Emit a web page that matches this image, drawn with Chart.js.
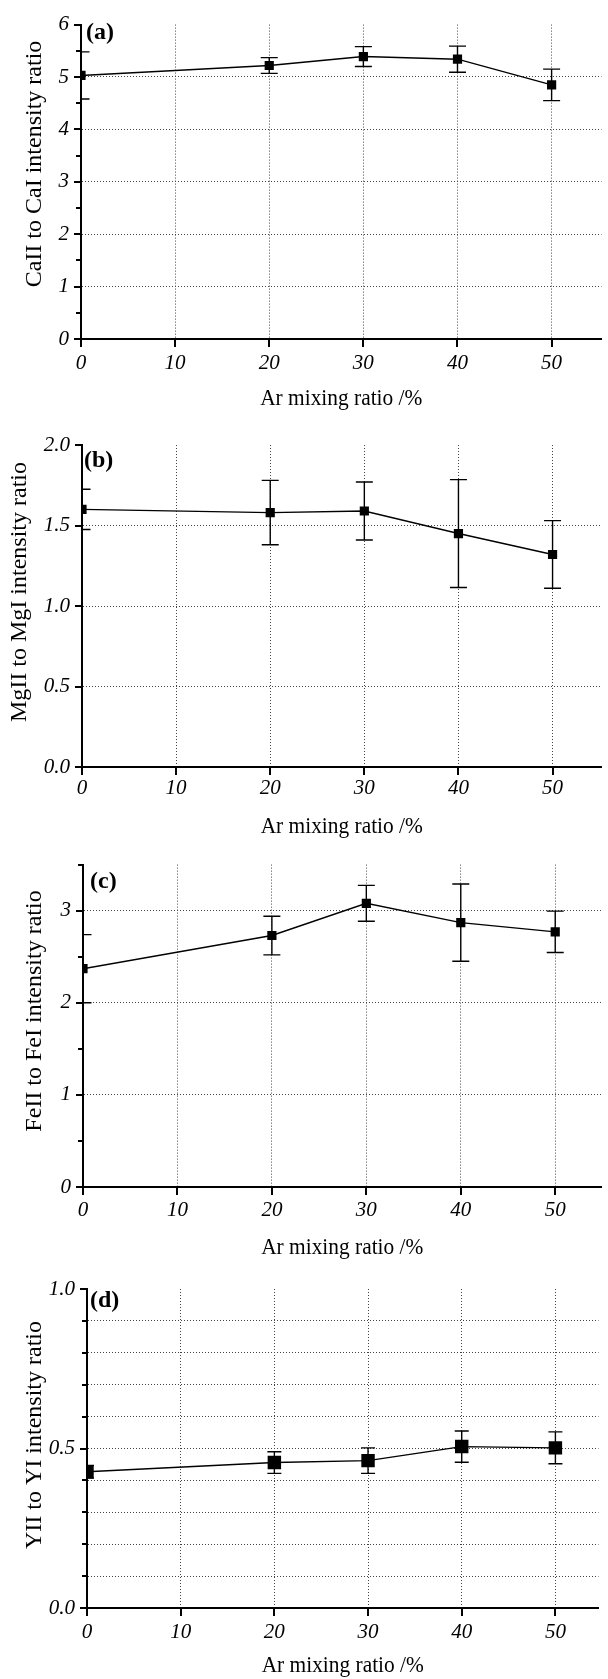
<!DOCTYPE html>
<html>
<head>
<meta charset="utf-8">
<script src="https://cdn.jsdelivr.net/npm/chart.js@4.4.1/dist/chart.umd.min.js"></script>
<style>
  html, body { margin:0; padding:0; background:#fff; }
  #page { position:relative; width:608px; height:1679px; overflow:hidden; }
  .box { position:absolute; left:0; width:608px; }
</style>
</head>
<body>
<div id="page">
  <div class="box" style="top:0;height:440px"><canvas id="chartA"></canvas></div>
  <div class="box" style="top:420px;height:440px"><canvas id="chartB"></canvas></div>
  <div class="box" style="top:840px;height:440px"><canvas id="chartC"></canvas></div>
  <div class="box" style="top:1260px;height:419px"><canvas id="chartD"></canvas></div>
</div>
<script>
// Ar mixing ratio (%) - same for all four panels
const arMix = [0, 20, 30, 40, 50];
const xTicks = [0, 10, 20, 30, 40, 50];

// (a) CaII / CaI
const caRatio = [5.03, 5.22, 5.39, 5.34, 4.85];
const caErr   = [0.45, 0.15, 0.19, 0.25, 0.30];
const caTicks = [0, 1, 2, 3, 4, 5, 6];
const caLabels = ['0', '1', '2', '3', '4', '5', '6'];
const caMinor = [0.5, 1.5, 2.5, 3.5, 4.5, 5.5];

// (b) MgII / MgI
const mgRatio = [1.60, 1.58, 1.59, 1.45, 1.32];
const mgErr   = [0.125, 0.20, 0.18, 0.335, 0.21];
const mgTicks = [0, 0.5, 1, 1.5, 2];
const mgLabels = ['0.0', '0.5', '1.0', '1.5', '2.0'];
const mgMinor = [];

// (c) FeII / FeI
const feRatio = [2.37, 2.73, 3.08, 2.87, 2.77];
const feErr   = [0.37, 0.21, 0.195, 0.42, 0.225];
const feTicks = [0, 1, 2, 3];
const feLabels = ['0', '1', '2', '3'];
const feMinor = [0.5, 1.5, 2.5, 3.5];

// (d) YII / YI
const yRatio = [0.427, 0.456, 0.462, 0.506, 0.502];
const yErr   = [0.02, 0.034, 0.04, 0.049, 0.05];
const yTicks = [0, 0.1, 0.2, 0.3, 0.4, 0.5, 0.6, 0.7, 0.8, 0.9, 1];
const yLabels = ['0.0', '', '', '', '', '0.5', '', '', '', '', '1.0'];
const yMinor = [];

const SERIF = '"Liberation Serif", "Times New Roman", serif';

const panels = [
  {id:'chartA', tag:'(a)', title:'CaII to CaI intensity ratio', ys:caRatio, err:caErr,
   ticks:caTicks, labels:caLabels, minor:caMinor, yMax:6, xMax:55.3,
   left:81, top:15, bottom:339, h:440, mark:6.5, cap:8.5,
   titleX:35, titleY:164, tagX:86, tagY:33, xTitleY:399, xPad:12},
  {id:'chartB', tag:'(b)', title:'MgII to MgI intensity ratio', ys:mgRatio, err:mgErr,
   ticks:mgTicks, labels:mgLabels, minor:mgMinor, yMax:2, xMax:55.2,
   left:82, top:25, bottom:347, h:440, mark:6.5, cap:8.5,
   titleX:20, titleY:172, tagX:84, tagY:41, xTitleY:407, xPad:9},
  {id:'chartC', tag:'(c)', title:'FeII to FeI intensity ratio', ys:feRatio, err:feErr,
   ticks:feTicks, labels:feLabels, minor:feMinor, yMax:3.5, xMax:54.9,
   left:83, top:24, bottom:347, h:440, mark:6.5, cap:8.5,
   titleX:35, titleY:171, tagX:90, tagY:42, xTitleY:408, xPad:11},
  {id:'chartD', tag:'(d)', title:'YII to YI intensity ratio', ys:yRatio, err:yErr,
   ticks:yTicks, labels:yLabels, minor:yMinor, yMax:1, xMax:54.6,
   left:87, top:29, bottom:348, h:419, mark:9.5, cap:7,
   titleX:35, titleY:175, tagX:90, tagY:41, xTitleY:406, xPad:12}
];

// error bars, tick marks and the texts around each panel
function makeExtras(p){
  return {
    id:'extras',
    afterDatasetsDraw(chart){
      const {ctx, chartArea:a, scales:{x, y}} = chart;
      ctx.save();
      ctx.beginPath(); ctx.rect(a.left, a.top, a.right-a.left, a.bottom-a.top); ctx.clip();
      ctx.strokeStyle='#000'; ctx.lineWidth=1.4;
      arMix.forEach((xv,i)=>{
        const px=x.getPixelForValue(xv);
        const hi=y.getPixelForValue(p.ys[i]+p.err[i]);
        const lo=y.getPixelForValue(p.ys[i]-p.err[i]);
        ctx.beginPath();
        ctx.moveTo(px,hi); ctx.lineTo(px,lo);
        ctx.moveTo(px-p.cap,hi); ctx.lineTo(px+p.cap,hi);
        ctx.moveTo(px-p.cap,lo); ctx.lineTo(px+p.cap,lo);
        ctx.stroke();
      });
      ctx.restore();
    },
    afterDraw(chart){
      const {ctx, chartArea:a, scales:{x, y}} = chart;
      ctx.save();
      ctx.strokeStyle='#000'; ctx.lineWidth=2;
      ctx.beginPath();
      xTicks.forEach(v=>{ const px=Math.round(x.getPixelForValue(v)); ctx.moveTo(px,a.bottom); ctx.lineTo(px,a.bottom+8); });
      p.ticks.forEach((v,i)=>{ const py=Math.round(y.getPixelForValue(v)); const len=p.labels[i]?7:5; ctx.moveTo(a.left,py); ctx.lineTo(a.left-len,py); });
      p.minor.forEach(v=>{ const py=Math.round(y.getPixelForValue(v)); ctx.moveTo(a.left,py); ctx.lineTo(a.left-5,py); });
      ctx.stroke();
      ctx.fillStyle='#000';
      ctx.textBaseline='middle';
      ctx.font='bold 24px '+SERIF; ctx.textAlign='left';
      ctx.fillText(p.tag, p.tagX, p.tagY);
      // x title, slightly narrowed like the scanned original
      ctx.save();
      ctx.translate((a.left+a.right)/2, p.xTitleY); ctx.scale(0.93, 1);
      ctx.font='23px '+SERIF; ctx.textAlign='center';
      ctx.fillText('Ar mixing ratio /%', 0, 0);
      ctx.restore();
      ctx.translate(p.titleX, p.titleY); ctx.rotate(-Math.PI/2);
      ctx.font='24px '+SERIF; ctx.textAlign='center';
      ctx.fillText(p.title, 0, 0);
      ctx.restore();
    }
  };
}

const tickFont = {family: SERIF, size: 21, style: 'italic'};
const clear = 'rgba(0,0,0,0)';

panels.forEach(p=>{
  const ctx=document.getElementById(p.id).getContext('2d');
  new Chart(ctx, {
    type:'scatter',
    data:{datasets:[{
      data: arMix.map((xv,i)=>({x:xv, y:p.ys[i]})),
      showLine:true, borderColor:'#000', borderWidth:1.4,
      pointStyle:'rect', pointRadius:p.mark, pointHoverRadius:p.mark,
      pointBackgroundColor:'#000', pointBorderWidth:0, clip:0
    }]},
    options:{
      responsive:true, maintainAspectRatio:false, animation:false,
      layout:{padding:{top:p.top, left:0, right:0, bottom:0}},
      plugins:{legend:{display:false}, tooltip:{enabled:false}},
      events:[],
      scales:{
        x:{type:'linear', min:0, max:p.xMax,
          afterBuildTicks: s=>{ s.ticks = xTicks.map(v=>({value:v})); },
          afterFit: s=>{ s.height = p.h - p.bottom; },
          ticks:{font:tickFont, color:'#000', padding:p.xPad, autoSkip:false, maxRotation:0,
            callback: v=>String(v)},
          grid:{drawTicks:false, lineWidth:1,
            color: c=>(c.tick && c.tick.value===0) ? clear : '#444'},
          border:{display:true, color:'#000', width:2, dash:[1,2]}
        },
        y:{type:'linear', min:0, max:p.yMax,
          afterBuildTicks: s=>{ s.ticks = p.ticks.map(v=>({value:v})); },
          afterFit: s=>{ s.width = p.left; },
          ticks:{font:tickFont, color:'#000', padding:12, autoSkip:false,
            callback: (v,i)=>p.labels[i]},
          grid:{drawTicks:false, lineWidth:1,
            color: c=>(c.tick && (c.tick.value===0 || c.tick.value===p.yMax)) ? clear : '#444'},
          border:{display:true, color:'#000', width:2, dash:[1,2]}
        }
      }
    },
    plugins:[makeExtras(p)]
  });
});
</script>
</body>
</html>
